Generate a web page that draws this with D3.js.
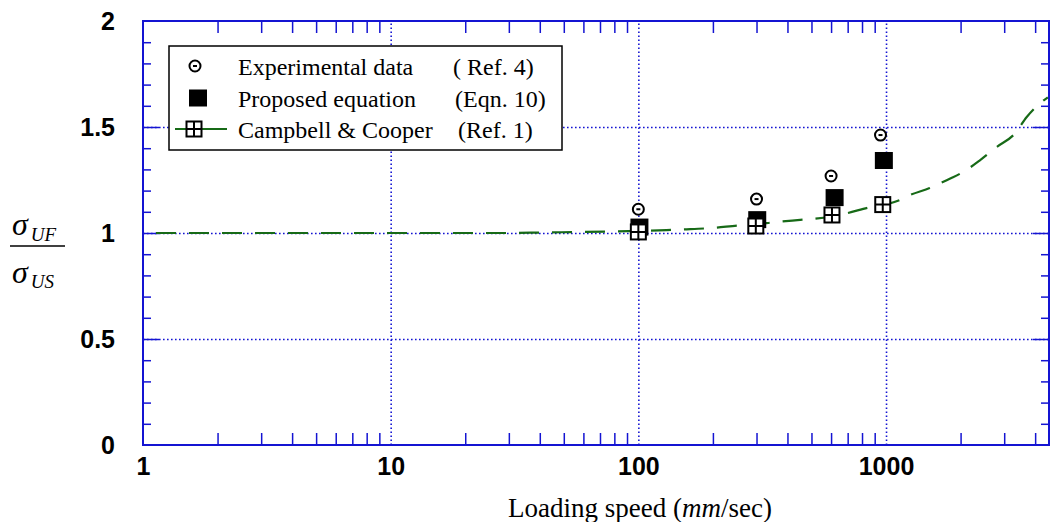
<!DOCTYPE html>
<html>
<head>
<meta charset="utf-8">
<script src="https://cdn.jsdelivr.net/npm/d3@7"></script>
<style>
  body { margin: 0; background: #fff; }
  .tick-label text { font-family: "Liberation Sans", Arial, sans-serif; font-weight: bold; font-size: 25px; fill: #000; }
  .serif { font-family: "Liberation Serif", "Times New Roman", serif; fill: #000; }
</style>
</head>
<body>
<div id="chart"></div>
<script>
// Values
var xTickLabels = [1, 10, 100, 1000];
var yTickLabels = [0, 0.5, 1, 1.5, 2];

// Experimental data (Ref. 4)
var expSpeed = [100, 300, 600, 950];
var expRatio = [1.112, 1.160, 1.269, 1.462];

// Proposed equation (Eqn. 10)
var eqnSpeed = [101, 302, 620, 980];
var eqnRatio = [1.028, 1.063, 1.167, 1.342];

// Campbell & Cooper (Ref. 1) markers
var ccSpeed = [100, 298, 605, 970];
var ccRatio = [1.005, 1.033, 1.085, 1.134];

// Campbell & Cooper (Ref. 1) curve
var curveSpeed = [1, 10, 30, 40, 60, 80, 100, 130, 150, 200, 250, 300, 350, 450, 500, 600, 700, 850, 1000, 1140, 1250, 1500, 1800, 2050, 2400, 2800, 3300, 3700, 4300, 4500];
var curveRatio = [1.0, 1.0, 1.0, 1.002, 1.005, 1.007, 1.01, 1.014, 1.017, 1.024, 1.035, 1.042, 1.05, 1.062, 1.066, 1.078, 1.094, 1.12, 1.135, 1.156, 1.179, 1.212, 1.255, 1.288, 1.344, 1.406, 1.467, 1.547, 1.623, 1.64];

var margin = {top: 21, left: 143},
    width = 906,
    height = 424;

var blue = "#1414d2",
    green = "#176a17";

var svg = d3.select("#chart").append("svg")
    .attr("width", 1051)
    .attr("height", 522);

var g = svg.append("g")
    .attr("transform", "translate(" + margin.left + "," + margin.top + ")");

var x = d3.scaleLog().domain([1, 4550]).range([0, width]);
var y = d3.scaleLinear().domain([0, 2]).range([height, 0]);

// minor tick values
var xMinor = [];
[1, 10, 100, 1000].forEach(function(d) {
    for (var k = 2; k <= 9; k++) if (d * k < 4550) xMinor.push(d * k);
});
var yMinor = d3.range(0.1, 2, 0.1).filter(function(d) { return Math.abs(d * 2 - Math.round(d * 2)) > 0.01; });

function styleAxis(sel, dotted) {
    sel.select(".domain").remove();
    sel.selectAll("line")
        .attr("stroke", blue)
        .attr("stroke-width", dotted ? 1.6 : 1.5)
        .attr("stroke-dasharray", dotted ? "1.6,2.4" : null);
    sel.selectAll("text").remove();
}

// gridlines
g.append("g")
    .attr("transform", "translate(0," + height + ")")
    .call(d3.axisBottom(x).tickValues([10, 100, 1000]).tickSize(-height))
    .call(styleAxis, true);
g.append("g")
    .call(d3.axisLeft(y).tickValues([0.5, 1, 1.5]).tickSize(-width))
    .call(styleAxis, true);

// minor ticks, all four sides
g.append("g")
    .attr("transform", "translate(0," + height + ")")
    .call(d3.axisBottom(x).tickValues(xMinor).tickSize(-12))
    .call(styleAxis, false);
g.append("g")
    .call(d3.axisTop(x).tickValues(xMinor).tickSize(-12))
    .call(styleAxis, false);
g.append("g")
    .call(d3.axisLeft(y).tickValues(yMinor).tickSize(-8))
    .call(styleAxis, false);
g.append("g")
    .attr("transform", "translate(" + width + ",0)")
    .call(d3.axisRight(y).tickValues(yMinor).tickSize(-8))
    .call(styleAxis, false);
g.append("g")
    .call(d3.axisLeft(y).tickValues([0.5, 1, 1.5]).tickSize(-16))
    .call(styleAxis, false);
g.append("g")
    .attr("transform", "translate(" + width + ",0)")
    .call(d3.axisRight(y).tickValues([0.5, 1, 1.5]).tickSize(-16))
    .call(styleAxis, false);

// frame
g.append("rect")
    .attr("width", width)
    .attr("height", height)
    .attr("fill", "none")
    .attr("stroke", blue)
    .attr("stroke-width", 2);

// tick labels
g.append("g")
    .attr("class", "tick-label")
    .attr("transform", "translate(0," + height + ")")
    .call(d3.axisBottom(x).tickValues(xTickLabels).tickSize(0).tickPadding(12).tickFormat(d3.format("d")))
    .call(function(s) { s.select(".domain").remove(); });
g.append("g")
    .attr("class", "tick-label")
    .call(d3.axisLeft(y).tickValues(yTickLabels).tickSize(0).tickPadding(28).tickFormat(function(d) { return String(d); }))
    .call(function(s) { s.select(".domain").remove(); });

// Campbell & Cooper curve
var line = d3.line()
    .x(function(d) { return x(d[0]); })
    .y(function(d) { return y(d[1]); })
    .curve(d3.curveMonotoneX);

g.append("path")
    .datum(d3.zip(curveSpeed, curveRatio))
    .attr("d", line)
    .attr("fill", "none")
    .attr("stroke", green)
    .attr("stroke-width", 2.2)
    .attr("stroke-dasharray", "20,13")
    .attr("stroke-dashoffset", 20);

// marker drawers
function circleMark(sel, cx, cy) {
    sel.append("circle").attr("cx", cx).attr("cy", cy).attr("r", 5.5)
        .attr("fill", "#fff").attr("stroke", "#000").attr("stroke-width", 2);
    sel.append("line").attr("x1", cx - 2).attr("x2", cx + 2).attr("y1", cy).attr("y2", cy)
        .attr("stroke", "#000").attr("stroke-width", 2);
}
function squareMark(sel, cx, cy) {
    sel.append("rect").attr("x", cx - 9).attr("y", cy - 8.5).attr("width", 18).attr("height", 17)
        .attr("fill", "#000");
}
function gridMark(sel, cx, cy) {
    var h = 7.5;
    sel.append("rect").attr("x", cx - h).attr("y", cy - h).attr("width", 2 * h).attr("height", 2 * h)
        .attr("fill", "#fff").attr("stroke", "#000").attr("stroke-width", 2);
    sel.append("path")
        .attr("d", "M" + (cx - h) + "," + cy + "H" + (cx + h) + "M" + cx + "," + (cy - h) + "V" + (cy + h))
        .attr("stroke", "#000").attr("stroke-width", 2);
}

var marks = g.append("g");
expSpeed.forEach(function(d, i) { circleMark(marks, x(d), y(expRatio[i])); });
eqnSpeed.forEach(function(d, i) { squareMark(marks, x(d), y(eqnRatio[i])); });
ccSpeed.forEach(function(d, i) { gridMark(marks, x(d), y(ccRatio[i])); });

// legend
var legend = svg.append("g");
legend.append("rect")
    .attr("x", 169).attr("y", 46).attr("width", 393).attr("height", 104)
    .attr("fill", "#fff").attr("stroke", "#000").attr("stroke-width", 1.5);

var legendRows = [
    {label: "Experimental data", ref: "( Ref. 4)", refX: 453, base: 75, mark: circleMark, mx: 195, my: 66},
    {label: "Proposed equation", ref: "(Eqn. 10)", refX: 455, base: 106.5, mark: squareMark, mx: 198, my: 98},
    {label: "Campbell & Cooper", ref: "(Ref. 1)", refX: 458, base: 138, mark: gridMark, mx: 194, my: 129}
];
legend.append("line")
    .attr("x1", 175).attr("x2", 227).attr("y1", 129).attr("y2", 129)
    .attr("stroke", green).attr("stroke-width", 2);
legendRows.forEach(function(r) {
    r.mark(legend, r.mx, r.my);
    legend.append("text").attr("class", "serif").attr("x", 238).attr("y", r.base)
        .style("font-size", "24px").text(r.label);
    legend.append("text").attr("class", "serif").attr("x", r.refX).attr("y", r.base)
        .style("font-size", "24px").text(r.ref);
});

// x axis title
var xt = svg.append("text").attr("class", "serif")
    .attr("x", 640).attr("y", 517)
    .attr("text-anchor", "middle")
    .style("font-size", "27px");
xt.append("tspan").text("Loading speed (");
xt.append("tspan").style("font-style", "italic").text("mm");
xt.append("tspan").text("/sec)");

// y axis title: sigma_UF / sigma_US
var yt = svg.append("g");
var num = yt.append("text").attr("class", "serif").attr("x", 12).attr("y", 235);
num.append("tspan").style("font-size", "32px").style("font-style", "italic").text("σ");
num.append("tspan").attr("dx", 3).attr("dy", 6).style("font-size", "19px").style("font-style", "italic").text("UF");
yt.append("line").attr("x1", 10).attr("x2", 65).attr("y1", 246).attr("y2", 246)
    .attr("stroke", "#000").attr("stroke-width", 1.5);
var den = yt.append("text").attr("class", "serif").attr("x", 12).attr("y", 283);
den.append("tspan").style("font-size", "32px").style("font-style", "italic").text("σ");
den.append("tspan").attr("dx", 3).attr("dy", 5).style("font-size", "19px").style("font-style", "italic").text("US");
</script>
</body>
</html>
